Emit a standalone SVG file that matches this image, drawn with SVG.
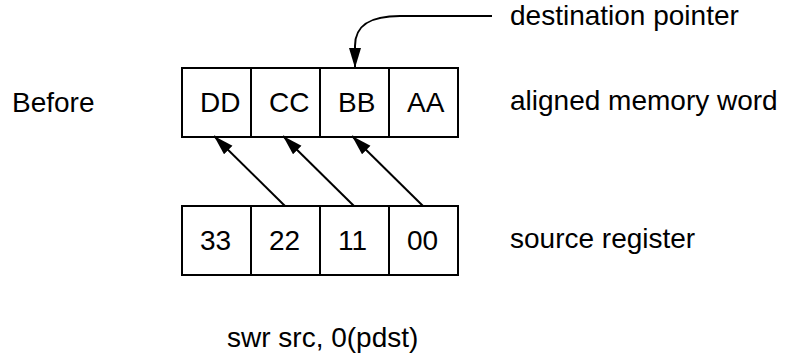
<svg xmlns="http://www.w3.org/2000/svg" width="812" height="360" viewBox="0 0 812 360">
<style>
text{font-family:"Liberation Sans",Arial,sans-serif;font-size:28px;fill:#000}
.cell{fill:#fff;stroke:#000;stroke-width:2}
.con{fill:none;stroke:#000;stroke-width:2}
</style>
<defs>
<marker id="ah" markerUnits="userSpaceOnUse" markerWidth="21" markerHeight="13" refX="20" refY="6" orient="auto" viewBox="0 0 21 13">
<path d="M0,0 L20,6 L0,12 z" fill="#000"/>
</marker>
</defs>
<text x="12" y="112">Before</text>
<g id="memory">
<rect class="cell" x="182" y="68" width="69" height="69"/>
<rect class="cell" x="251" y="68" width="69" height="69"/>
<rect class="cell" x="320" y="68" width="69" height="69"/>
<rect class="cell" x="389" y="68" width="69" height="69"/>
<text x="200" y="112">DD</text>
<text x="269" y="112">CC</text>
<text x="338" y="112">BB</text>
<text x="407" y="112">AA</text>
</g>
<g id="register">
<rect class="cell" x="182" y="206" width="69" height="69"/>
<rect class="cell" x="251" y="206" width="69" height="69"/>
<rect class="cell" x="320" y="206" width="69" height="69"/>
<rect class="cell" x="389" y="206" width="69" height="69"/>
<text x="200" y="250">33</text>
<text x="269" y="250">22</text>
<text x="338" y="250">11</text>
<text x="407" y="250">00</text>
</g>
<g id="labels">
<text x="510" y="25">destination pointer</text>
<text x="510" y="110">aligned memory word</text>
<text x="510" y="248">source register</text>
<text x="227" y="347">swr src, 0(pdst)</text>
</g>
<g id="connectors">
<path class="con" d="M492 16 L400 16 C372 16 355 24 355 46 L355 68" marker-end="url(#ah)"/>
<line class="con" x1="285" y1="206" x2="214" y2="136" marker-end="url(#ah)"/>
<line class="con" x1="354" y1="206" x2="283" y2="136" marker-end="url(#ah)"/>
<line class="con" x1="423" y1="206" x2="352" y2="136" marker-end="url(#ah)"/>
</g>
</svg>
